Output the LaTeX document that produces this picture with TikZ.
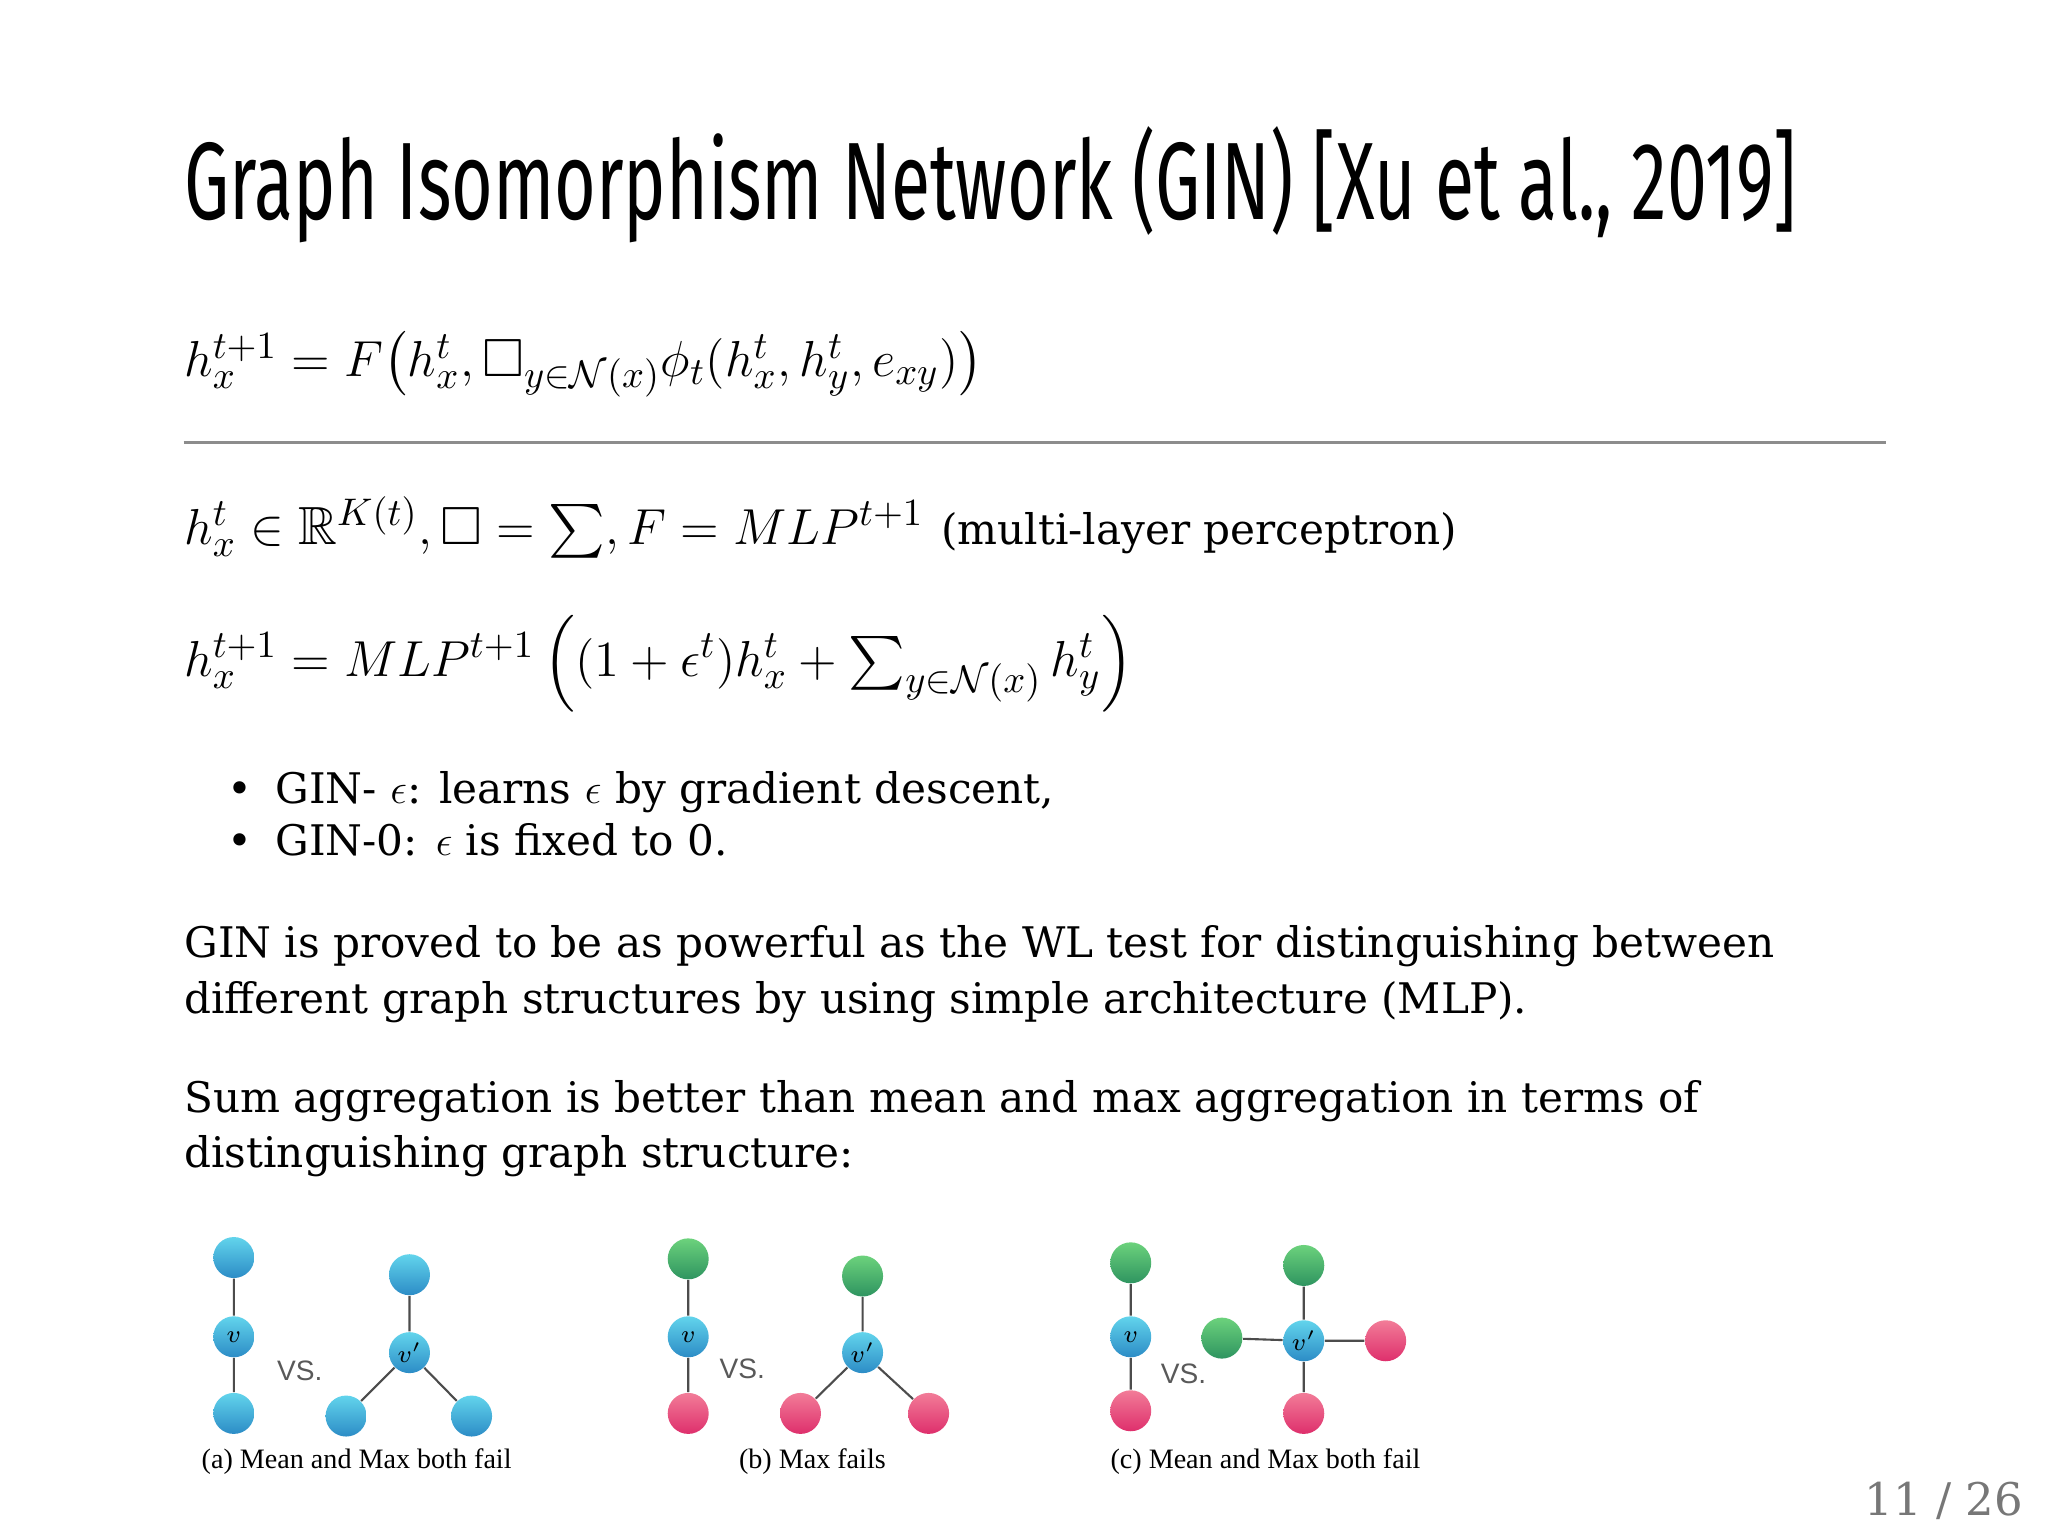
\documentclass[tikz,border=0pt]{standalone}
\usepackage{amsmath,amssymb}
\usepackage{fontspec}
\setmainfont{DejaVu Serif}
\newfontfamily\titlefont{Fira Sans}
\newfontfamily\capfont{Liberation Serif}
\newfontfamily\vsfont{Liberation Sans}
\usetikzlibrary{shadings}
\definecolor{pagegray}{HTML}{777777}
\definecolor{cyT}{HTML}{62D4EC}\definecolor{cyB}{HTML}{2C8CC6}
\definecolor{grT}{HTML}{6CD27C}\definecolor{grB}{HTML}{2E9460}
\definecolor{pkT}{HTML}{F27C98}\definecolor{pkB}{HTML}{DE2F6C}
\begin{document}
\begin{tikzpicture}[x=0.01321cm,y=-0.01321cm,
  txt/.style={anchor=base west,inner sep=0pt,font=\fontsize{12}{14}\selectfont},
  mth/.style={anchor=base west,inner sep=0pt,font=\fontsize{15.3}{18}\selectfont},
  nd/.style={circle,minimum size=0.41cm,inner sep=0pt,draw=none},
  cyannode/.style={nd,top color=cyT,bottom color=cyB},
  greennode/.style={nd,top color=grT,bottom color=grB},
  pinknode/.style={nd,top color=pkT,bottom color=pkB},
  edge/.style={draw=black!70,line width=0.6pt},
  vlab/.style={font=\fontsize{7}{8}\selectfont},
  vs/.style={font=\vsfont\fontsize{8}{9}\selectfont,text=black!65},
  caption/.style={anchor=base,inner sep=0pt,font=\capfont\fontsize{8}{9}\selectfont}]
\useasboundingbox[fill=white] (0,0) rectangle (1550.4,1162.8);

\node[anchor=north west,inner sep=0pt] (title) at (139,95)
  {\resizebox{16.13cm}{0.93cm}{\titlefont\fontsize{34}{40}\selectfont Graph Isomorphism Network (GIN) [Xu et al., 2019]}};

\node[mth] (eq1) at (139,285) {$h_x^{t+1} = F\bigl(h_x^t, \square_{y\in\mathcal{N}(x)}\phi_t(h_x^t, h_y^t, e_{xy})\bigr)$};
\coordinate (rl) at (139,335); \coordinate (rr) at (1428,335);
\draw[black!45,line width=0.6pt] (rl) -- (rr);

\node[mth] (eq2) at (139,412) {$h_x^t \in \mathbb{R}^{K(t)}, \square = \sum, F = MLP^{t+1}$ \fontsize{12}{14}\selectfont(multi-layer perceptron)};
\node[mth] (eq3) at (139,512) {$h_x^{t+1} = MLP^{t+1}\left((1+\epsilon^t)h_x^t + \sum_{y\in\mathcal{N}(x)} h_y^t\right)$};

\node[txt] (b1) at (172,608) {\textbullet};
\node[txt] (t1) at (208,608) {GIN- $\epsilon$: learns $\epsilon$ by gradient descent,};
\node[txt] (b2) at (172,648) {\textbullet};
\node[txt] (t2) at (208,648) {GIN-0: $\epsilon$ is fixed to 0.};

\node[txt] (p1a) at (139,725) {GIN is proved to be as powerful as the WL test for distinguishing between};
\node[txt] (p1b) at (139,767) {different graph structures by using simple architecture (MLP).};
\node[txt] (p2a) at (139,842) {Sum aggregation is better than mean and max aggregation in terms of};
\node[txt] (p2b) at (139,884) {distinguishing graph structure:};

% (a)
\node[cyannode] (a1) at (177,952) {};
\node[cyannode] (a2) at (177,1012) {};
\node[cyannode] (a3) at (177,1070) {};
\node[cyannode] (a4) at (310,965) {};
\node[cyannode] (a5) at (310,1024) {};
\node[cyannode] (a6) at (262,1072) {};
\node[cyannode] (a7) at (357,1072) {};
\draw[edge] (a1)--(a2) (a2)--(a3) (a4)--(a5) (a5)--(a6) (a5)--(a7);
\node[vlab] at (a2) {$v$}; \node[vlab] at (a5) {$v'$};
\node[vs] (avs) at (227,1038) {VS.};
\node[caption] (ca) at (270,1112) {(a) Mean and Max both fail};

% (b)
\node[greennode] (b1n) at (521,953) {};
\node[cyannode] (b2n) at (521,1012) {};
\node[pinknode] (b3n) at (521,1070) {};
\node[greennode] (b4n) at (653,966) {};
\node[cyannode] (b5n) at (653,1024) {};
\node[pinknode] (b6n) at (606,1070) {};
\node[pinknode] (b7n) at (703,1070) {};
\draw[edge] (b1n)--(b2n) (b2n)--(b3n) (b4n)--(b5n) (b5n)--(b6n) (b5n)--(b7n);
\node[vlab] at (b2n) {$v$}; \node[vlab] at (b5n) {$v'$};
\node[vs] (bvs) at (562,1036) {VS.};
\node[caption] (cb) at (615,1112) {(b) Max fails};

% (c)
\node[greennode] (c1) at (856,956) {};
\node[cyannode] (c2) at (856,1012) {};
\node[pinknode] (c3) at (856,1068) {};
\node[greennode] (c4) at (987,958) {};
\node[cyannode] (c5) at (987,1015) {};
\node[pinknode] (c6) at (987,1070) {};
\node[greennode] (c7) at (925,1013) {};
\node[pinknode] (c8) at (1049,1015) {};
\draw[edge] (c1)--(c2) (c2)--(c3) (c4)--(c5) (c5)--(c6) (c5)--(c7) (c5)--(c8);
\node[vlab] at (c2) {$v$}; \node[vlab] at (c5) {$v'$};
\node[vs] (cvs) at (896,1040) {VS.};
\node[caption] (cc) at (958,1112) {(c) Mean and Max both fail};

\node[anchor=base east,inner sep=0pt,text=pagegray,font=\fontsize{12.8}{15}\selectfont] (pg) at (1532,1147) {11 / 26};
\end{tikzpicture}
\end{document}
